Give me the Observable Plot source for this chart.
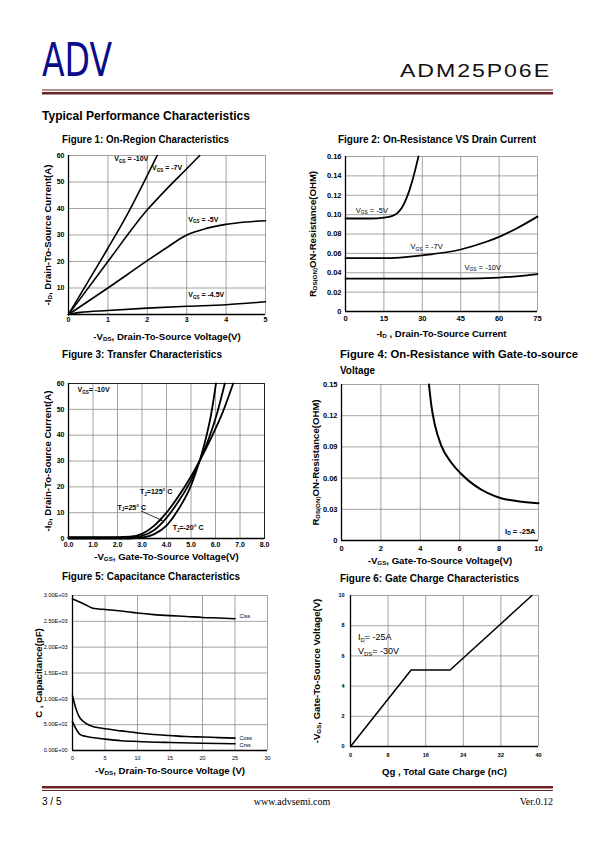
<!DOCTYPE html>
<html><head><meta charset="utf-8">
<script src="https://cdn.jsdelivr.net/npm/d3@7"></script>
<script src="https://cdn.jsdelivr.net/npm/@observablehq/plot@0.6"></script>
<style>
html,body{margin:0;padding:0;background:#fff;}
#page{position:relative;width:595px;height:842px;overflow:hidden;}
</style></head>
<body><div id="page"><svg id="deco" width="595" height="842" style="position:absolute;left:0;top:0"></svg></div>
<script>
// ---------- Figure 1: On-Region Characteristics (x: -VDS V, y: -ID A)
const f1XTicks = [0, 1, 2, 3, 4, 5];
const f1YTicks = [10, 20, 30, 40, 50, 60];
const f1Vgs10 = [[0,0],[0.5,12.5],[1,25],[1.5,38],[2,52.5],[2.25,60]];
const f1Vgs7 = [[0,0],[1,20],[2,39.5],[2.5,47.5],[3,55],[3.33,60]];
const f1Vgs5 = [[0,0],[1,10],[2,20.3],[2.5,25.3],[3,30],[3.5,32.5],[4,34],[4.5,34.9],[5,35.4]];
const f1Vgs45 = [[0,0],[0.3,0.8],[1,1.5],[2,2.4],[3,3.1],[4,3.7],[5,4.8]];
const f1Labels = [
  {x: 1.16, y: 58.6, t: "V_{GS} = -10V"},
  {x: 2.12, y: 55.3, t: "V_{GS} = -7V"},
  {x: 3.04, y: 35.8, t: "V_{GS} = -5V"},
  {x: 3.04, y: 7.3, t: "V_{GS} = -4.5V"}
];
// ---------- Figure 2: On-Resistance vs Drain Current (x: -ID A, y: ohm)
const f2XTicks = [0, 15, 30, 45, 60, 75];
const f2YTicks = [0, 0.02, 0.04, 0.06, 0.08, 0.10, 0.12, 0.14, 0.16];
const f2Vgs5 = [[0,0.096],[10,0.096],[15,0.097],[18,0.0985],[20,0.101],[22,0.107],[24,0.118],[26,0.134],[27.5,0.149],[28.5,0.16]];
const f2Vgs7 = [[0,0.055],[15,0.055],[30,0.058],[45,0.064],[55,0.072],[60,0.077],[67,0.086],[75,0.098]];
const f2Vgs10 = [[0,0.034],[15,0.034],[30,0.034],[45,0.034],[60,0.035],[70,0.037],[75,0.0385]];
const f2Labels = [
  {x: 4, y: 0.1045, t: "V_{GS} = -5V"},
  {x: 25.4, y: 0.0665, t: "V_{GS} = -7V"},
  {x: 46.5, y: 0.0455, t: "V_{GS} = -10V"}
];
// ---------- Figure 3: Transfer Characteristics (x: -VGS V, y: -ID A)
const f3XTicks = [0, 1, 2, 3, 4, 5, 6, 7, 8];
const f3YTicks = [0, 10, 20, 30, 40, 50, 60];
const f3T125 = [[0,0.5],[1.5,0.5],[2.5,0.7],[3,1.8],[3.5,5],[4,10],[4.5,16.5],[5,24],[5.35,30],[5.8,38.5],[6.3,49],[6.72,60]];
const f3T25 = [[0,0.3],[2,0.3],[2.7,0.5],[3,1],[3.5,3.3],[4,8],[4.5,14.5],[5,22.5],[5.35,30],[5.7,38],[6.05,48],[6.38,60]];
const f3Tm20 = [[0,0],[2.5,0],[3,0.3],[3.5,1.7],[4,5],[4.5,11.5],[5,20.5],[5.35,30],[5.6,38.5],[5.82,48],[6.02,60]];
const f3Labels = [
  {x: 2.92, y: 18, t: "T_{J}=125° C"},
  {x: 2.0, y: 12, t: "T_{J}=25° C"},
  {x: 4.25, y: 4.0, t: "T_{J}=-20° C"}
];
const f3Arrow = [{x1: 2.97, y1: 10.6, x2: 3.82, y2: 7.0}];
// ---------- Figure 4: On-Resistance vs Gate-to-Source Voltage (x: -VGS V, y: ohm)
const f4XTicks = [0, 2, 4, 6, 8, 10];
const f4YTicks = [0, 0.03, 0.06, 0.09, 0.12, 0.15];
const f4Curve = [[4.44,0.15],[4.56,0.13],[4.73,0.112],[5.07,0.091],[5.57,0.075],[6.08,0.064],[6.76,0.053],[7.43,0.0455],[8.1,0.0407],[8.95,0.0378],[10,0.0359]];
// ---------- Figure 5: Capacitance Characteristics (x: -VDS V, y: pF)
const f5XTicks = [0, 5, 10, 15, 20, 25, 30];
const f5YTicks = [0, 500, 1000, 1500, 2000, 2500, 3000];
const f5Ciss = [[0,2930],[1,2880],[2,2820],[3,2760],[4,2740],[5,2730],[7.5,2700],[10,2660],[12.5,2630],[15,2610],[17.5,2595],[20,2575],[22.5,2565],[25,2550]];
const f5Coss = [[0,1060],[0.5,820],[1,660],[1.5,580],[2,530],[3,470],[4,440],[5,420],[7.5,380],[10,340],[12.5,310],[15,290],[17.5,270],[20,260],[22.5,250],[25,240]];
const f5Crss = [[0,560],[0.5,430],[1,330],[1.5,290],[2,275],[3,250],[5,220],[7.5,190],[10,175],[15,155],[20,140],[25,130]];
const f5Labels = [{x: 25.7, y: 2600, t: "Ciss"}, {x: 25.7, y: 245, t: "Coss"}, {x: 25.7, y: 110, t: "Crss"}];
// ---------- Figure 6: Gate Charge (x: Qg nC, y: -VGS V)
const f6XTicks = [0, 8, 16, 24, 32, 40];
const f6YTicks = [0, 2, 4, 6, 8, 10];
const f6Curve = [[0,0],[12.9,5.07],[21.2,5.07],[38.6,10]];
const f6Labels = [{x: 1.6, y: 7.25, t: "I_{D}= -25A"}, {x: 1.6, y: 6.3, t: "V_{DS}= -30V"}];

// ================== rendering ==================
const FONT = '"Liberation Sans", Arial, Helvetica, sans-serif';
const SERIF = '"Liberation Serif", "Times New Roman", serif';
const GRID = "#8c8c8c";
const page = document.getElementById("page");
const NS = "http://www.w3.org/2000/svg";

function subs(svg) {
  svg.querySelectorAll("text,tspan").forEach(t => {
    if (t.childElementCount) return;
    const s = t.textContent;
    if (!s.includes("_{")) return;
    t.textContent = "";
    let prevSub = false;
    s.split(/(_\{[^}]*\})/).filter(p => p).forEach(p => {
      const ts = document.createElementNS(NS, "tspan");
      if (p.startsWith("_{")) {
        ts.textContent = p.slice(2, -1);
        ts.setAttribute("font-size", "65%");
        ts.setAttribute("dy", "0.3em");
        prevSub = true;
      } else {
        ts.textContent = p;
        if (prevSub) ts.setAttribute("dy", "-0.195em");
        prevSub = false;
      }
      t.appendChild(ts);
    });
  });
}

const P = d => d[0], Q = d => d[1];
function curveMark(data, sw, curve = "monotone-x") {
  return Plot.line(data, {x: P, y: Q, stroke: "black", strokeWidth: sw, curve});
}
function labelMark(arr, size, weight, family = FONT) {
  return Plot.text(arr, {x: "x", y: "y", text: "t", textAnchor: "start", fontSize: size, fontWeight: weight, fontFamily: family, fill: "black"});
}

function chart(c) {
  const g = {stroke: GRID, strokeOpacity: 1, strokeWidth: 0.8};
  const svg = Plot.plot({
    width: c.w, height: c.h,
    marginLeft: c.ml, marginRight: c.mr, marginTop: c.mt, marginBottom: c.mb,
    x: {domain: c.xDomain},
    y: {domain: c.yDomain},
    style: {fontFamily: FONT, fontSize: c.tickSize + "px", fontWeight: c.tickWeight, background: "transparent", color: "black", overflow: "visible"},
    marks: [
      Plot.gridX({ticks: c.xGrid, ...g}),
      Plot.gridY({ticks: c.yGrid, ...g}),
      c.frame ? Plot.frame({stroke: "#222", strokeWidth: 1}) : null,
      Plot.ruleX([c.xDomain[0]], {stroke: "black", strokeWidth: 1.3}),
      Plot.ruleY([c.yDomain[0]], {stroke: "black", strokeWidth: 1.3}),
      Plot.axisX({ticks: c.xTicks, tickFormat: c.xFmt, tickSize: 0, tickPadding: c.xPad, label: null, fontSize: c.tickSize, fontWeight: c.tickWeight, fontFamily: c.tickFamily || FONT}),
      Plot.axisY({ticks: c.yTicks, tickFormat: c.yFmt, tickSize: 0, tickPadding: c.yPad, label: null, fontSize: c.yTickSize || c.tickSize, fontWeight: c.tickWeight, fontFamily: c.tickFamily || FONT}),
      ...c.marks,
      Plot.text([c.xLabel], {text: d => d, frameAnchor: "bottom", dy: c.xLabelDy, textAnchor: "middle", lineAnchor: "middle", fontSize: c.labelSize, fontWeight: "bold", fill: "black"}),
      Plot.text([c.yLabel], {text: d => d, frameAnchor: "left", dx: c.yLabelDx, rotate: -90, textAnchor: "middle", lineAnchor: "middle", fontSize: c.labelSize, fontWeight: "bold", fill: "black"})
    ].filter(Boolean)
  });
  subs(svg);
  svg.style.position = "absolute";
  svg.style.left = c.left + "px";
  svg.style.top = c.top + "px";
  page.appendChild(svg);
}

const fmtInt = d => String(d);
const fmt2 = d => d === 0 ? "0" : d.toFixed(2);
const fmt1 = d => d.toFixed(1);
const sci = d => {
  if (d === 0) return "0.00E+00";
  const e = Math.floor(Math.log10(d));
  return (d / 10 ** e).toFixed(2) + "E+" + String(e).padStart(2, "0");
};
const LS = 9.6;

// Figure 1
chart({
  left: 30, top: 148, w: 245, h: 198, ml: 38, mr: 10, mt: 7, mb: 32,
  xDomain: [0, 5], yDomain: [0, 60],
  xGrid: f1XTicks, yGrid: [0, ...f1YTicks], xTicks: f1XTicks, yTicks: f1YTicks,
  xFmt: fmtInt, yFmt: fmtInt, xPad: 3, yPad: 4, tickSize: 7, tickWeight: "bold",
  xLabel: "-V_{DS}, Drain-To-Source Voltage(V)", yLabel: "-I_{D}, Drain-To-Source Current(A)",
  xLabelDy: 22, yLabelDx: -21, labelSize: LS,
  marks: [curveMark(f1Vgs10, 1.6), curveMark(f1Vgs7, 1.6), curveMark(f1Vgs5, 1.6), curveMark(f1Vgs45, 1.6), labelMark(f1Labels, 7, "bold")]
});
// Figure 2
chart({
  left: 300, top: 148, w: 260, h: 197, ml: 45, mr: 23, mt: 8, mb: 34,
  xDomain: [0, 75], yDomain: [0, 0.16],
  xGrid: f2XTicks, yGrid: f2YTicks, xTicks: f2XTicks, yTicks: f2YTicks,
  xFmt: fmtInt, yFmt: fmt2, xPad: 4, yPad: 4, tickSize: 7.5, tickWeight: "bold",
  xLabel: "-I_{D} , Drain-To-Source Current", yLabel: "R_{DS(ON)}ON-Resistance(OHM)",
  xLabelDy: 22, yLabelDx: -33, labelSize: LS,
  marks: [curveMark(f2Vgs5, 1.8), curveMark(f2Vgs7, 1.8), curveMark(f2Vgs10, 1.8), labelMark(f2Labels, 7.5, "normal")]
});
// Figure 3
chart({
  left: 30, top: 375, w: 245, h: 192, ml: 38, mr: 11, mt: 8, mb: 29,
  xDomain: [0, 8], yDomain: [0, 60], frame: true,
  xGrid: f3XTicks, yGrid: f3YTicks, xTicks: f3XTicks, yTicks: f3YTicks,
  xFmt: fmt1, yFmt: fmtInt, xPad: 4, yPad: 4, tickSize: 7, tickWeight: "bold",
  xLabel: "-V_{GS}, Gate-To-Source Voltage(V)", yLabel: "-I_{D}, Drain-To-Source Current(A)",
  xLabelDy: 18, yLabelDx: -21, labelSize: LS,
  marks: [
    curveMark(f3T125, 1.8), curveMark(f3T25, 1.8), curveMark(f3Tm20, 1.8),
    labelMark(f3Labels, 7, "bold"),
    Plot.arrow(f3Arrow, {x1: "x1", y1: "y1", x2: "x2", y2: "y2", stroke: "black", strokeWidth: 0.8, headLength: 5}),
    Plot.text(["V_{GS}= -10V"], {text: d => d, frameAnchor: "top-left", dx: 9, dy: 4, lineAnchor: "top", textAnchor: "start", fontSize: 7, fontWeight: "bold", fill: "black"})
  ]
});
// Figure 4
chart({
  left: 300, top: 375, w: 260, h: 192, ml: 41, mr: 22, mt: 9, mb: 27,
  xDomain: [0, 10], yDomain: [0, 0.15],
  xGrid: f4XTicks, yGrid: f4YTicks, xTicks: f4XTicks, yTicks: f4YTicks,
  xFmt: fmtInt, yFmt: fmt2, xPad: 5, yPad: 4, tickSize: 7.5, tickWeight: "bold",
  xLabel: "-V_{GS}, Gate-To-Source Voltage(V)", yLabel: "R_{DS(ON)}ON-Resistance(OHM)",
  xLabelDy: 20, yLabelDx: -26, labelSize: LS,
  marks: [
    curveMark(f4Curve, 2),
    Plot.text(["I_{D} = -25A"], {text: d => d, frameAnchor: "bottom-right", dx: -3, dy: -7, textAnchor: "end", fontSize: 7.5, fontWeight: "bold", fill: "black"})
  ]
});
// Figure 5
chart({
  left: 0, top: 585, w: 290, h: 195, ml: 72, mr: 23, mt: 10, mb: 30,
  xDomain: [0, 30], yDomain: [0, 3000],
  xGrid: f5XTicks, yGrid: f5YTicks, xTicks: f5XTicks, yTicks: f5YTicks,
  xFmt: fmtInt, yFmt: sci, xPad: 6, yPad: 5, tickSize: 5.5, tickWeight: "normal", tickFamily: FONT,
  xLabel: "-V_{DS}, Drain-To-Source Voltage (V)", yLabel: "C , Capacitance(pF)",
  xLabelDy: 20, yLabelDx: -34, labelSize: LS,
  marks: [curveMark(f5Ciss, 1.6), curveMark(f5Coss, 1.6), curveMark(f5Crss, 1.6), labelMark(f5Labels, 5.5, "normal")]
});
// Figure 6
chart({
  left: 300, top: 585, w: 260, h: 195, ml: 50, mr: 22, mt: 10, mb: 34,
  xDomain: [0, 40], yDomain: [0, 10],
  xGrid: f6XTicks, yGrid: f6YTicks, xTicks: f6XTicks, yTicks: f6YTicks,
  xFmt: fmtInt, yFmt: fmtInt, xPad: 7, yPad: 6, tickSize: 5.5, tickWeight: "bold",
  xLabel: "Qg , Total Gate Charge (nC)", yLabel: "-V_{GS}, Gate-To-Source Voltage(V)",
  xLabelDy: 25, yLabelDx: -34, labelSize: LS,
  marks: [curveMark(f6Curve, 1.5, "linear"), labelMark(f6Labels, 9, "normal")]
});

// ================== page decoration ==================
const deco = d3.select("#deco");
const MAROON = "#6b2222";
function txt(s, x, y, size, opts = {}) {
  const t = deco.append("text").attr("x", x).attr("y", y).attr("font-size", size)
    .attr("font-family", opts.family || FONT).attr("font-weight", opts.weight || "normal")
    .attr("fill", opts.fill || "black").attr("text-anchor", opts.anchor || "start").text(s);
  if (opts.ls) t.attr("letter-spacing", opts.ls);
  if (opts.len) t.attr("textLength", opts.len).attr("lengthAdjust", opts.adjust || "spacingAndGlyphs");
  return t;
}
txt("ADV", 42, 76, 47, {family: '"Liberation Sans Narrow","DejaVu Sans Condensed","Liberation Sans",Arial,sans-serif', fill: "#0c0c8c", len: 70});
txt("ADM25P06E", 400, 77, 18, {len: 151, ls: 1.5, fill: "#111"});
deco.append("rect").attr("x", 42).attr("y", 89.5).attr("width", 511).attr("height", 1).attr("fill", MAROON);
deco.append("rect").attr("x", 42).attr("y", 92).attr("width", 511).attr("height", 2.5).attr("fill", MAROON);
txt("Typical Performance Characteristics", 42, 120, 12, {weight: "bold", len: 208});
txt("Figure 1: On-Region Characteristics", 62, 142.5, 10, {weight: "bold", len: 167});
txt("Figure 2: On-Resistance VS Drain Current", 338, 142.5, 10, {weight: "bold", len: 198});
txt("Figure 3: Transfer Characteristics", 62, 357.5, 10, {weight: "bold", len: 160});
txt("Figure 4: On-Resistance with Gate-to-source", 340, 357.5, 10, {weight: "bold", len: 238});
txt("Voltage", 340, 373.5, 10, {weight: "bold", len: 35});
txt("Figure 5: Capacitance Characteristics", 62, 579.5, 10, {weight: "bold", len: 178});
txt("Figure 6: Gate Charge Characteristics", 340, 581.5, 10, {weight: "bold", len: 179});
deco.append("rect").attr("x", 42).attr("y", 786).attr("width", 511).attr("height", 2.5).attr("fill", MAROON);
deco.append("rect").attr("x", 42).attr("y", 790).attr("width", 511).attr("height", 1).attr("fill", MAROON);
txt("3 / 5", 42, 804.5, 10, {});
txt("www.advsemi.com", 292, 804.5, 10, {family: SERIF, anchor: "middle"});
txt("Ver.0.12", 553, 804.5, 10, {family: SERIF, anchor: "end"});
</script>
</body></html>
